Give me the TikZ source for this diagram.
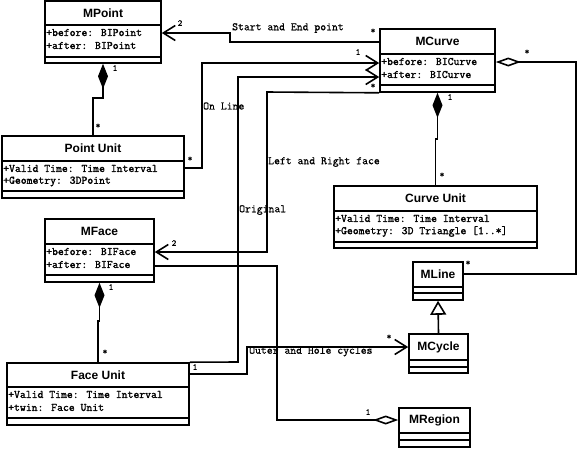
\documentclass[tikz,border=0pt]{standalone}
\usepackage{fontspec}
\setmainfont{Liberation Sans}
\newfontfamily\attrfont{Latin Modern Mono}[FakeBold=1.6]
\newfontfamily\lblfont{Latin Modern Mono}[FakeBold=0.8]
\usetikzlibrary{arrows.meta}
\tikzset{
  classbox/.style={draw, line width=1.6pt, inner sep=0pt},
  boxline/.style={line width=1.6pt},
  classname/.style={font=\fontsize{12}{14}\selectfont\bfseries, inner sep=0pt},
  attr/.style={font=\attrfont\fontsize{11.4}{13}\selectfont\bfseries, anchor=west, inner sep=0pt},
  lbl/.style={font=\lblfont\fontsize{11.4}{13}\selectfont\bfseries, anchor=west, inner sep=0pt},
  mult/.style={font=\lblfont\fontsize{9}{10}\selectfont\bfseries, inner sep=0pt},
  conn/.style={draw, line width=1.6pt},
  nav/.style={conn, -{Straight Barb[length=12pt,width=15pt]}},
  compo/.style={conn, -{Diamond[length=25pt,width=10pt]}},
  aggr/.style={conn, -{Diamond[open,length=25pt,width=9pt]}},
  gen/.style={conn, -{Triangle[open,length=14pt,width=16pt]}}
}
\newcommand\umlclass[8]{%
  \node[classbox, minimum width={(#4-#2)*1pt}, minimum height={(#5-#3)*1pt}] (#1) at ({(#2+#4)/2},{(#3+#5)/2}) {};
  \draw[boxline] (#2,#6) -- (#4,#6);
  \draw[boxline] (#2,#7) -- (#4,#7);
  \node[classname] (#1-name) at ({(#2+#4)/2},{(#3+#6)/2}) {#8};
}
\begin{document}
\begin{tikzpicture}[x=1pt,y=-1pt]
\useasboundingbox (0,0) rectangle (577,448);
% classes
\umlclass{mpoint}{45}{1}{161}{63}{25}{57}{MPoint}
\node[attr] (mpoint-a1) at (46,32.5) {+before: BIPoint};
\node[attr] (mpoint-a2) at (46,45.5) {+after: BIPoint};

\umlclass{mcurve}{380}{29}{495}{92}{54}{85}{MCurve}
\node[attr] (mcurve-a1) at (381,61.5) {+before: BICurve};
\node[attr] (mcurve-a2) at (381,74.5) {+after: BICurve};

\umlclass{pointunit}{2}{136}{184}{198}{161}{191}{Point Unit}
\node[attr] (pointunit-a1) at (3,168.5) {+Valid Time: Time Interval};
\node[attr] (pointunit-a2) at (3,181.5) {+Geometry: 3DPoint};

\umlclass{mface}{45}{219}{154}{282}{244}{275}{MFace}
\node[attr] (mface-a1) at (46,251.5) {+before: BIFace};
\node[attr] (mface-a2) at (46,264.5) {+after: BIFace};

\umlclass{curveunit}{334}{186}{537}{248}{211}{242}{Curve Unit}
\node[attr] (curveunit-a1) at (335,218.5) {+Valid Time: Time Interval};
\node[attr] (curveunit-a2) at (335,231.5) {+Geometry: 3D Triangle [1..*]};

\umlclass{faceunit}{7}{363}{189}{425}{387}{418}{Face Unit}
\node[attr] (faceunit-a1) at (8,394.5) {+Valid Time: Time Interval};
\node[attr] (faceunit-a2) at (8,407.5) {+twin: Face Unit};

\umlclass{mline}{413}{262}{463}{300}{287}{293}{MLine}
\umlclass{mcycle}{409}{334}{468}{373}{360}{367}{MCycle}
\umlclass{mregion}{399}{408}{470}{447}{433}{440}{MRegion}

% Start and End point
\coordinate (c1a) at (230,42);
\coordinate (c1b) at (230,33);
\draw[nav] (mcurve.west |- c1a) -- (c1a) -- (c1b) -- (mpoint.east |- c1b);
\node[lbl] (l1) at (232,28) {Start and End point};
\node[mult] (m1a) at (180,23) {2};
\node[mult] (m1b) at (373,31) {*};

% On Line
\coordinate (c2a) at (202,168);
\coordinate (c2b) at (202,63);
\draw[nav] (pointunit.east |- c2a) -- (c2a) -- (c2b) -- (mcurve.west |- c2b);
\node[lbl] (l2) at (203,106) {On Line};
\node[mult] (m2a) at (190,159) {*};
\node[mult] (m2b) at (358,52) {1};

% Left and Right face
\coordinate (c3a) at (267,92);
\coordinate (c3b) at (267,252);
\draw[nav] (mcurve.south west) -- (c3a) -- (c3b) -- (mface.east |- c3b);
\node[lbl] (l3) at (268,162) {Left and Right face};
\node[mult] (m3a) at (174,243) {2};

% Original
\coordinate (c4a) at (238,362);
\coordinate (c4b) at (238,77);
\draw[nav] (faceunit.north east) -- (c4a) -- (c4b) -- (mcurve.west |- c4b);
\node[lbl] (l4) at (239,210) {Original};
\node[mult] (m4b) at (373,86) {*};

% Outer and Hole cycles
\coordinate (c5a) at (247,374);
\coordinate (c5b) at (247,347);
\draw[nav] (faceunit.east |- c5a) -- (c5a) -- (c5b) -- (mcycle.west |- c5b);
\node[lbl] (l5) at (249,351.5) {Outer and Hole cycles};
\node[mult] (m5a) at (195,367) {1};
\node[mult] (m5b) at (389,337) {*};

% MFace - MRegion
\coordinate (c6a) at (277,266);
\coordinate (c6b) at (277,420);
\draw[aggr] (mface.east |- c6a) -- (c6a) -- (c6b) -- (mregion.west |- c6b);
\node[mult] (m6a) at (368,412) {1};

% MCurve - MLine aggregation
\coordinate (c7a) at (576,274);
\coordinate (c7b) at (576,62);
\draw[aggr] (mline.east |- c7a) -- (c7a) -- (c7b) -- (mcurve.east |- c7b);
\node[mult] (m7a) at (527,52) {*};
\node[mult] (m7b) at (468,263) {*};

% generalization
\draw[gen] (mcycle.north) -- (mline.south);

% compositions
\draw[compo] (pointunit.north) -- ++(0,-37) -| (mpoint.south);
\node[mult] (m9a) at (115,68) {1};
\node[mult] (m9b) at (98,126) {*};

\draw[compo] (curveunit.north) -- ++(0,-46) -| (mcurve.south);
\node[mult] (m10a) at (450,97) {1};
\node[mult] (m10b) at (442,175) {*};

\draw[compo] (faceunit.north) -- ++(0,-41) -| (mface.south);
\node[mult] (m11a) at (111,287) {1};
\node[mult] (m11b) at (105,352) {*};
\end{tikzpicture}
\end{document}
